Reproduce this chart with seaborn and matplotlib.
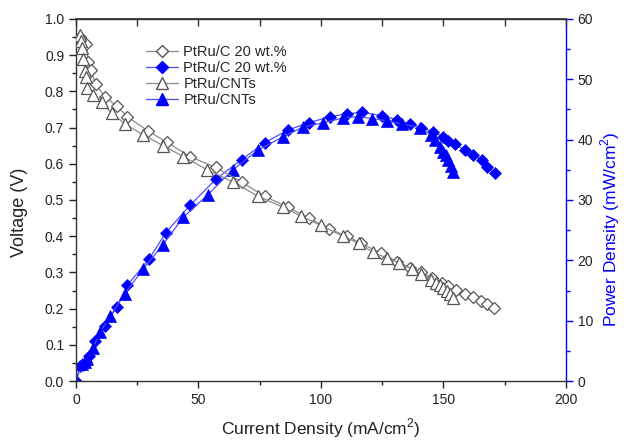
import matplotlib
matplotlib.use("Agg")
import matplotlib.pyplot as plt
import seaborn as sns
import pandas as pd
from matplotlib.ticker import MultipleLocator, FormatStrFormatter, NullFormatter
from matplotlib.lines import Line2D

# ---------------- data ----------------
# PtRu/C 20 wt.% : voltage
cur_c_v = [1.5, 2.5, 4.1, 5.0, 6.0, 8.0, 11.8, 16.6, 21.0, 29.5, 37.0, 46.5, 57.0, 67.6,
           77.0, 86.6, 95.0, 103.5, 110.6, 116.5, 124.5, 131.0, 136.5, 141.0, 145.5,
           149.5, 152.0, 155.0, 158.8, 162.0, 165.5, 168.0, 170.5]
volt_c = [0.95, 0.94, 0.93, 0.88, 0.86, 0.82, 0.785, 0.76, 0.73, 0.69, 0.66, 0.62, 0.59, 0.55,
          0.51, 0.48, 0.45, 0.42, 0.40, 0.38, 0.353, 0.33, 0.313, 0.30, 0.284,
          0.27, 0.262, 0.252, 0.241, 0.231, 0.222, 0.212, 0.202]
# PtRu/C 20 wt.% : power density
cur_c_p = [0.0, 1.6, 2.8, 4.1, 5.3, 7.8, 11.8, 16.6, 21.0, 29.8, 36.7, 46.5, 57.0, 67.6,
           77.0, 86.6, 95.0, 103.7, 110.6, 116.7, 124.9, 131.0, 136.3, 141.0, 145.7,
           149.8, 152.0, 154.7, 158.8, 162.0, 165.7, 168.0, 171.0]
pow_c = [0.0, 2.5, 2.7, 3.1, 4.1, 6.6, 9.1, 12.2, 15.9, 20.2, 24.6, 29.1, 33.4, 36.7,
         39.5, 41.6, 42.8, 43.8, 44.3, 44.5, 44.0, 43.3, 42.6, 42.0, 41.3,
         40.5, 39.8, 39.2, 38.3, 37.5, 36.7, 35.5, 34.5]

# PtRu/CNTs : voltage
cur_n_v = [1.6, 2.2, 2.4, 3.0, 3.7, 4.0, 4.6, 7.0, 10.5, 14.6, 20.0, 27.4, 35.6, 43.8, 53.4,
           64.0, 74.4, 84.6, 92.0, 100.0, 109.0, 115.6, 121.4, 127.0, 132.0, 137.0, 141.0,
           145.0, 147.0, 148.6, 150.0, 151.4, 152.7, 154.0]
volt_n = [0.956, 0.94, 0.92, 0.89, 0.857, 0.84, 0.81, 0.79, 0.77, 0.74, 0.71, 0.68, 0.65, 0.62,
          0.584, 0.55, 0.51, 0.48, 0.455, 0.43, 0.40, 0.38, 0.355, 0.34, 0.327, 0.31, 0.295,
          0.28, 0.272, 0.265, 0.258, 0.25, 0.24, 0.23]
# PtRu/CNTs : power density
cur_n_p = [0.0, 2.4, 3.7, 4.6, 7.0, 9.8, 13.9, 20.0, 27.3, 35.5, 43.7, 53.9, 64.0, 74.4,
           84.6, 92.8, 101.0, 109.0, 115.0, 121.0, 127.0, 133.0, 140.4, 145.0, 146.5,
           148.6, 150.0, 151.0, 152.0, 153.0, 154.0]
pow_n = [0.0, 2.8, 3.2, 3.7, 5.5, 8.1, 10.7, 14.5, 18.5, 22.6, 27.1, 30.9, 35.0, 38.3,
         40.5, 42.1, 42.8, 43.6, 43.8, 43.5, 43.1, 42.6, 42.0, 40.8, 40.0,
         38.8, 38.0, 37.4, 36.7, 35.7, 34.7]

labels = ["PtRu/C 20 wt.%", "PtRu/C 20 wt.%", "PtRu/CNTs", "PtRu/CNTs"]
x_ticks = [0, 50, 100, 150, 200]

# ---------------- plotting ----------------
sns.set_theme(style="white")
plt.rcParams["font.family"] = ["Liberation Sans", "DejaVu Sans"]
plt.rcParams["mathtext.fontset"] = "custom"
plt.rcParams["mathtext.rm"] = "Liberation Sans"

fig = plt.figure(figsize=(6.24, 4.41), dpi=100)
ax = fig.add_axes([0.1218, 0.136, 0.785, 0.821])
ax2 = ax.twinx()

gray = "#555555"
lgray = "#8a8a8a"
blue = "#0000ff"
lblue = "#4d4dff"
ms_d = 6.5
ms_t = 8.0

df_cv = pd.DataFrame({"I": cur_c_v, "V": volt_c})
df_nv = pd.DataFrame({"I": cur_n_v, "V": volt_n})
df_cp = pd.DataFrame({"I": cur_c_p, "P": pow_c})
df_np = pd.DataFrame({"I": cur_n_p, "P": pow_n})

sns.lineplot(data=df_cv, x="I", y="V", ax=ax, color=lgray, lw=0.9, marker="D",
             markersize=ms_d, markerfacecolor="white", markeredgecolor=gray,
             markeredgewidth=0.9, sort=False, estimator=None, zorder=3)
sns.lineplot(data=df_nv, x="I", y="V", ax=ax, color=lgray, lw=0.9, marker="^",
             markersize=ms_t, markerfacecolor="white", markeredgecolor=gray,
             markeredgewidth=0.9, sort=False, estimator=None, zorder=3)
sns.lineplot(data=df_cp, x="I", y="P", ax=ax2, color=lblue, lw=0.9, marker="D",
             markersize=ms_d, markerfacecolor=blue, markeredgecolor=blue,
             markeredgewidth=0.5, sort=False, estimator=None)
sns.lineplot(data=df_np, x="I", y="P", ax=ax2, color=lblue, lw=0.9, marker="^",
             markersize=ms_t, markerfacecolor=blue, markeredgecolor=blue,
             markeredgewidth=0.5, sort=False, estimator=None)

ax.set_xlim(0, 200)
ax.set_ylim(0, 1.0)
ax2.set_ylim(0, 60)

ax.set_xticks(x_ticks)
ax.xaxis.set_minor_locator(MultipleLocator(25))
ax.yaxis.set_major_locator(MultipleLocator(0.1))
ax.yaxis.set_minor_locator(MultipleLocator(0.05))
ax.yaxis.set_major_formatter(FormatStrFormatter("%.1f"))
ax2.yaxis.set_major_locator(MultipleLocator(10))
ax2.yaxis.set_minor_locator(MultipleLocator(5))

ax.tick_params(axis="both", which="major", direction="out", length=5, width=1,
               labelsize=10, colors="#222222", left=True, bottom=True, top=False)
ax.tick_params(axis="both", which="minor", direction="out", length=3, width=1,
               left=True, bottom=True, top=False, colors="#222222")
ax2.tick_params(axis="y", which="major", direction="out", length=5, width=1,
                color=blue, labelcolor="#222222", labelsize=10, right=True)
ax2.tick_params(axis="y", which="minor", direction="out", length=3, width=1,
                color=blue, right=True)

# top ticks pointing inward
secx = ax.secondary_xaxis("top")
secx.set_xticks([0, 25, 50, 75, 100, 125, 150, 175, 200])
secx.xaxis.set_major_formatter(NullFormatter())
secx.tick_params(axis="x", direction="in", length=5, width=1, colors="#333333")
secx.spines["top"].set_color("#333333")

for s in ["left", "bottom", "top"]:
    ax.spines[s].set_color("#333333")
    ax.spines[s].set_linewidth(1.0)
ax2.spines["right"].set_color(blue)
ax2.spines["right"].set_linewidth(1.0)
ax2.spines["left"].set_visible(False)
ax2.spines["top"].set_visible(False)
ax2.spines["bottom"].set_visible(False)
ax.spines["right"].set_visible(False)

ax.set_xlabel("Current Density (mA/cm$^2$)", fontsize=12.5, color="#222222", labelpad=7)
ax.set_ylabel("Voltage (V)", fontsize=13, color="#222222")
ax2.set_ylabel("Power Density (mW/cm$^2$)", fontsize=12.5, color=blue)
ax.yaxis.set_label_coords(-0.098, 0.467)
ax2.yaxis.set_label_coords(1.066, 0.42)

handles = [
    Line2D([], [], color=lgray, lw=0.9, marker="D", markersize=ms_d,
           markerfacecolor="white", markeredgecolor=gray),
    Line2D([], [], color=lblue, lw=0.9, marker="D", markersize=ms_d,
           markerfacecolor=blue, markeredgecolor=blue),
    Line2D([], [], color=lgray, lw=0.9, marker="^", markersize=ms_t,
           markerfacecolor="white", markeredgecolor=gray),
    Line2D([], [], color=lblue, lw=0.9, marker="^", markersize=ms_t,
           markerfacecolor=blue, markeredgecolor=blue),
]
ax2.legend(handles, labels, loc="upper left", bbox_to_anchor=(0.13, 0.945),
           frameon=False, fontsize=10.5, handlelength=2.2, handletextpad=0.4,
           labelspacing=0.15, borderaxespad=0.0)

ax2.set_zorder(ax.get_zorder() - 1)
ax.patch.set_visible(False)

fig.savefig("out.png", dpi=100)
